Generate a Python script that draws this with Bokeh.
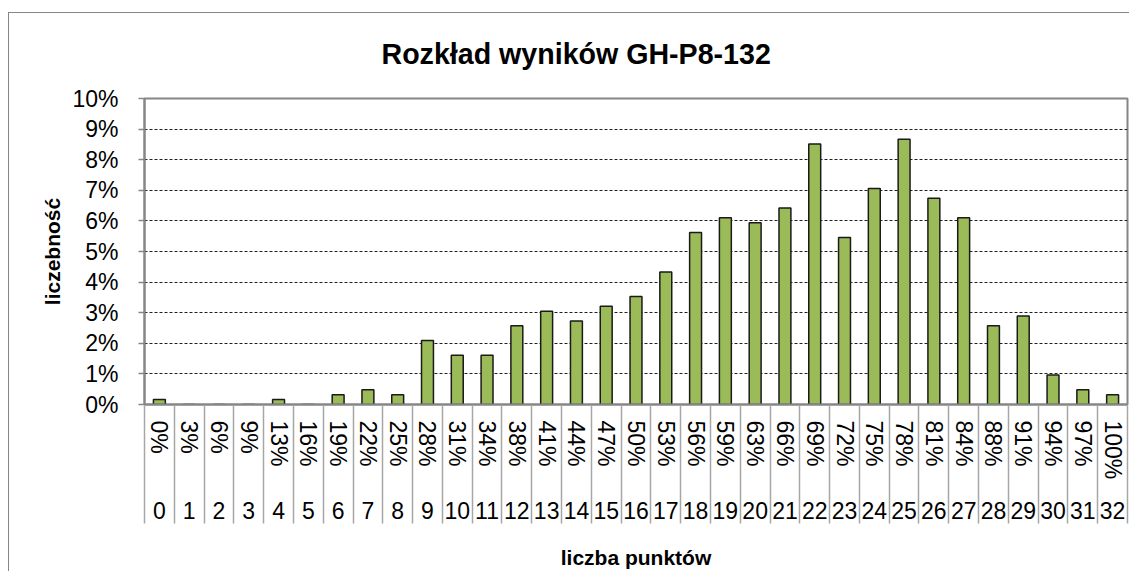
from bokeh.plotting import figure
from bokeh.models import (Range1d, FixedTicker, PrintfTickFormatter, LinearAxis,
                          ColumnDataSource)
from bokeh.embed import file_html
from bokeh.resources import INLINE

# ---- data ----
points = list(range(33))
pct_labels = ["0%", "3%", "6%", "9%", "13%", "16%", "19%", "22%", "25%", "28%",
              "31%", "34%", "38%", "41%", "44%", "47%", "50%", "53%", "56%", "59%",
              "63%", "66%", "69%", "72%", "75%", "78%", "81%", "84%", "88%", "91%",
              "94%", "97%", "100%"]
freq = [0.16, 0.0, 0.0, 0.0, 0.16, 0.0, 0.32, 0.48, 0.32, 2.09,
        1.61, 1.61, 2.57, 3.05, 2.73, 3.21, 3.53, 4.33, 5.62, 6.10,
        5.94, 6.42, 8.51, 5.46, 7.06, 8.67, 6.74, 6.10, 2.57, 2.89,
        0.96, 0.48, 0.32]
y_ticks = list(range(11))

title = "Rozkład wyników GH-P8-132"
y_title = "liczebność"
x_title = "liczba punktów"

FONT = "Liberation Sans"
GRAY = "#868686"

src = ColumnDataSource(dict(x=points, y=freq))

p = figure(width=1129, height=571, x_range=Range1d(-0.5, len(points) - 0.5),
           y_range=Range1d(0, 10), output_backend="svg", toolbar_location=None,
           min_border_left=144, min_border_right=2, min_border_top=98,
           min_border_bottom=166)
p.border_fill_color = None
p.background_fill_color = "white"
p.styles = {
    "background-color": "white",
    "background-image": "linear-gradient(#868686,#868686), linear-gradient(#868686,#868686)",
    "background-size": "100% 1px, 1px 100%",
    "background-position": "8px 12px, 8px 12px",
    "background-repeat": "no-repeat",
}

p.title.text = title
p.title.text_font = FONT
p.title.text_font_size = "28.6px"
p.title.text_font_style = "bold"
p.title.text_color = "#000000"
p.title.align = "left"
p.title.offset = 237
p.title.standoff = 58

p.outline_line_color = GRAY
p.outline_line_width = 2

p.xgrid.visible = False
p.ygrid.ticker = FixedTicker(ticks=y_ticks[1:-1])
p.ygrid.grid_line_color = "#222222"
p.ygrid.grid_line_dash = "3 2"
p.ygrid.grid_line_width = 1

p.vbar(x="x", top="y", width=0.4, source=src, fill_color="#9BBB59",
       line_color="#1a1a1a", line_width=1.5)

# y axis
ya = p.yaxis[0]
ya.ticker = FixedTicker(ticks=y_ticks)
ya.formatter = PrintfTickFormatter(format="%d%%")
ya.major_label_text_font = FONT
ya.major_label_text_font_size = "23px"
ya.major_label_text_color = "#000000"
ya.major_label_standoff = 20
ya.major_tick_out = 6
ya.major_tick_in = 0
ya.minor_tick_line_color = None
ya.major_tick_line_color = GRAY
ya.major_tick_line_width = 1.5
ya.axis_line_color = GRAY
ya.axis_line_width = 2
ya.axis_label = y_title
ya.axis_label_text_font = FONT
ya.axis_label_text_font_size = "21px"
ya.axis_label_text_font_style = "bold"
ya.axis_label_text_color = "#000000"
ya.axis_label_standoff = 5

# x axis 1: percentages
xa = p.xaxis[0]
xa.ticker = FixedTicker(ticks=points)
xa.major_label_overrides = {k: pct_labels[k] for k in points}
xa.major_label_orientation = "vertical"
xa.major_label_text_font = FONT
xa.major_label_text_font_size = "23px"
xa.major_label_text_color = "#000000"
xa.major_label_standoff = 16
xa.major_tick_out = 0
xa.major_tick_in = 0
xa.minor_tick_line_color = None
xa.axis_line_color = GRAY
xa.axis_line_width = 2

# x axis 2: points
xb = LinearAxis(ticker=FixedTicker(ticks=points),
                major_label_overrides={k: str(k) for k in points})
xb.major_label_text_font = FONT
xb.major_label_text_font_size = "23px"
xb.major_label_text_color = "#000000"
xb.major_label_standoff = 19
xb.major_tick_out = 0
xb.major_tick_in = 0
xb.minor_tick_line_color = None
xb.axis_line_color = None
p.add_layout(xb, "below")

# x axis 3: category separators + title
bounds = [k - 0.5 for k in points] + [points[-1] + 0.5]
xc = LinearAxis(ticker=FixedTicker(ticks=bounds),
                major_label_overrides={b: "" for b in bounds})
xc.major_label_text_font_size = "0px"
xc.major_label_standoff = 0
xc.major_tick_out = 2
xc.major_tick_in = 116
xc.major_tick_line_color = "#A6A6A6"
xc.major_tick_line_width = 1.5
xc.minor_tick_line_color = None
xc.axis_line_color = None
xc.axis_label = x_title
xc.axis_label_text_font = FONT
xc.axis_label_text_font_size = "21px"
xc.axis_label_text_font_style = "bold"
xc.axis_label_text_color = "#000000"
xc.axis_label_standoff = 22
p.add_layout(xc, "below")

open("out.html", "w").write(file_html(p, INLINE))
